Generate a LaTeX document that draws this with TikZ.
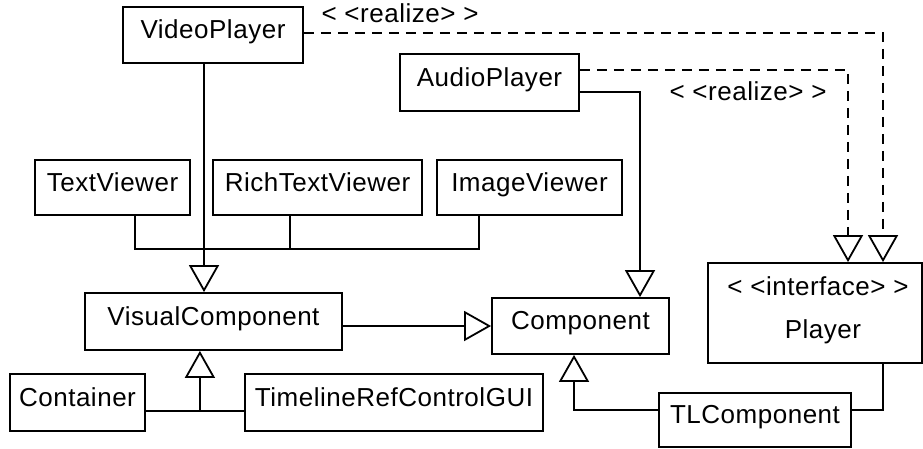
\documentclass[tikz,border=0pt]{standalone}
\usepackage{fontspec}
\setmainfont{Liberation Sans}[LetterSpace=2]
\usetikzlibrary{arrows.meta}
\begin{document}
\begin{tikzpicture}[x=1pt,y=-1pt,
  umlfont/.style={font=\fontsize{26}{30}\selectfont},
  box/.style={draw, line width=1.8pt, inner sep=0pt, umlfont, text height=19pt, text depth=12pt},
  lbl/.style={inner sep=0pt, anchor=base, umlfont},
  conn/.style={line width=1.8pt},
  gen/.style={conn, -{Triangle[open,length=27pt,width=30pt]}},
  real/.style={gen, dash pattern=on 10pt off 7pt}]
\useasboundingbox (0,0) rectangle (923,448);

\node[box, minimum width=180pt, minimum height=56pt] (VP) at (213,35) {VideoPlayer};
\node[box, minimum width=179pt, minimum height=57pt] (AP) at (489.5,82.5) {AudioPlayer};
\node[box, minimum width=155pt, minimum height=55pt] (TV) at (112.5,187.5) {TextViewer};
\node[box, minimum width=209pt, minimum height=55pt] (RTV) at (317.5,187.5) {RichTextViewer};
\node[box, minimum width=185pt, minimum height=55pt] (IV) at (529.5,187.5) {ImageViewer};
\node[box, minimum width=257pt, minimum height=57pt] (VC) at (213.5,321.5) {VisualComponent};
\node[box, minimum width=177pt, minimum height=56pt] (C) at (580.5,326) {Component};
\node[box, minimum width=135pt, minimum height=57pt] (Ct) at (77.5,402.5) {Container};
\node[box, minimum width=298pt, minimum height=57pt] (TR) at (394,402.5) {TimelineRefControlGUI};
\node[box, minimum width=192pt, minimum height=54pt] (TL) at (755,420) {TLComponent};
\node[draw, line width=1.8pt, minimum width=214pt, minimum height=100pt, inner sep=0pt] (P) at (815,313) {};
\node[lbl] (PS) at (818,295) {< <interface> >};
\node[lbl] (PN) at (823,338) {Player};

\node[lbl] (R1) at (400,22) {< <realize> >};
\node[lbl] (R2) at (748,100) {< <realize> >};

% inheritance into VisualComponent
\draw[gen] ([xshift=-9pt]VP.south) -- ([xshift=-9.5pt]VC.north);
\draw[conn] ([xshift=22.5pt]TV.south) -- ++(0,33) -| ([xshift=-50.5pt]IV.south);
\draw[conn] ([xshift=-27.5pt]RTV.south) -- ++(0,33);

% VisualComponent -> Component
\draw[gen] (VC.east |- C.west) -- (C.west);

% AudioPlayer -> Component
\draw[gen] ([yshift=-9.5pt]AP.east) -| ([xshift=59.5pt]C.north);

% Container, TimelineRefControlGUI -> VisualComponent
\draw[conn] ([yshift=-8.5pt]Ct.east) -- coordinate[pos=0.55] (j) ([yshift=-8.5pt]TR.west);
\draw[gen] (j) -- (j |- VC.south);

% TLComponent -> Component, Player
\draw[gen] ([yshift=10pt]TL.west) -| ([xshift=-6.5pt]C.south);
\draw[conn] ([yshift=10pt]TL.east) -| ([xshift=68pt]P.south);

% realizations
\draw[real] ([yshift=2pt]VP.east) -| ([xshift=68pt]P.north);
\draw[real] ([yshift=12.5pt]AP.east) -| ([xshift=33pt]P.north);
\end{tikzpicture}
\end{document}
